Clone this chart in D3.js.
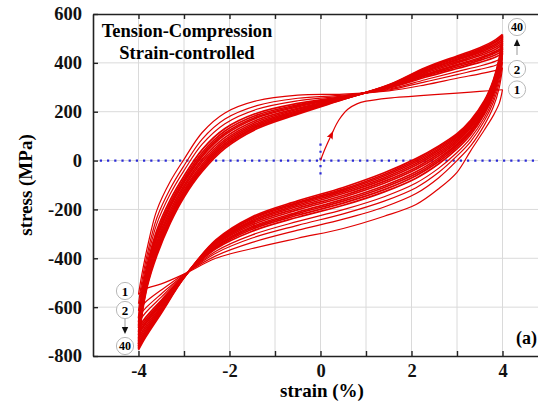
<!DOCTYPE html>
<html>
<head>
<meta charset="utf-8">
<script src="https://cdn.jsdelivr.net/npm/d3@7"></script>
<style>
  html, body { margin: 0; padding: 0; background: #fff; }
  svg { display: block; font-family: "Liberation Serif", "Times New Roman", serif; }
</style>
</head>
<body>
<svg id="chart" width="538" height="410"></svg>
<script>
// ---- axis ticks ----
const strainTicks = [-4, -3, -2, -1, 0, 1, 2, 3, 4];
const strainLabels = [-4, -2, 0, 2, 4];
const stressTicks = [-800, -600, -400, -200, 0, 200, 400, 600];

// ---- strain sampling of the hysteresis branches (%) ----
// reloading branches run from -4 % to +4 %, unloading branches from +4 % to -4 %
const strainUp   = [-4, -3.93, -3.8, -3.6, -3.3, -3.0, -2.6, -2.1, -1.4, -0.5, 0.5, 1.5, 2.3, 3.0, 3.5, 3.85, 4];
const strainDown = [4, 3.93, 3.8, 3.6, 3.3, 3.0, 2.6, 2.1, 1.4, 0.5, -0.5, -1.5, -2.3, -3.0, -3.5, -3.85, -4];

// ---- first tensile loading from the origin (MPa) ----
const strainInit = [0, 0.1, 0.24, 0.4, 0.6, 0.8, 1.0, 1.5, 2.0, 2.5, 3.0, 3.5, 4.0];
const stressInit = [0, 48, 106, 165, 210, 232, 243, 256, 263, 270, 276, 283, 290];

// ---- reloading branches (stress in MPa on strainUp), by cycle ----
const reloadCycles = [2, 3, 4, 5, 6, 7, 8, 10, 12, 15, 19, 24, 30, 40];
const reload2  = [-548, -470, -350, -205, -85, 5, 115, 195, 245, 268, 272, 285, 310, 337, 355, 369, 380];
const reload3  = [-586, -499, -377, -236, -114, -21, 88, 170, 225, 255, 268, 289, 322, 352, 373, 390, 403];
const reload4  = [-615, -521, -398, -260, -136, -41, 67, 151, 210, 245, 265, 292, 331, 364, 387, 407, 421];
const reload5  = [-646, -545, -420, -286, -160, -63, 45, 131, 194, 234, 262, 296, 341, 377, 402, 424, 440];
const reload6  = [-662, -557, -432, -299, -172, -74, 33, 121, 186, 228, 261, 298, 346, 383, 410, 433, 449];
const reload7  = [-675, -567, -441, -311, -182, -83, 24, 112, 179, 224, 260, 299, 350, 389, 416, 441, 458];
const reload8  = [-686, -575, -449, -320, -190, -91, 16, 105, 174, 220, 258, 301, 353, 393, 421, 447, 464];
const reload10 = [-702, -587, -460, -333, -202, -102, 5, 95, 166, 214, 257, 302, 358, 400, 429, 456, 474];
const reload12 = [-715, -598, -470, -344, -213, -111, -5, 86, 159, 210, 256, 304, 363, 405, 435, 464, 482];
const reload15 = [-729, -608, -480, -355, -223, -121, -15, 78, 152, 205, 254, 305, 367, 411, 442, 471, 490];
const reload19 = [-740, -616, -488, -364, -231, -128, -23, 70, 146, 201, 253, 307, 370, 415, 447, 477, 497];
const reload24 = [-751, -625, -496, -373, -240, -136, -31, 63, 140, 197, 252, 308, 374, 420, 452, 484, 504];
const reload30 = [-760, -632, -502, -381, -247, -142, -37, 57, 136, 194, 251, 309, 377, 424, 457, 489, 509];
const reload40 = [-771, -640, -510, -390, -255, -150, -45, 50, 130, 190, 250, 310, 380, 428, 462, 495, 516];

// ---- unloading branches (stress in MPa on strainDown), by cycle ----
const unloadCycles = [1, 2, 3, 4, 5, 6, 7, 8, 10, 12, 15, 19, 24, 30, 40];
const unload1  = [290, 235, 185, 125, 40, -48, -115, -180, -228, -278, -318, -360, -400, -465, -505, -525, -548];
const unload2  = [380, 300, 220, 145, 60, 0, -70, -135, -190, -240, -285, -335, -390, -465, -530, -580, -612];
const unload3  = [403, 320, 239, 162, 78, 19, -48, -111, -166, -218, -265, -317, -379, -468, -546, -605, -640];
const unload4  = [421, 336, 253, 175, 92, 33, -31, -92, -148, -201, -249, -304, -371, -470, -559, -624, -661];
const unload5  = [440, 353, 268, 189, 106, 48, -13, -72, -128, -183, -232, -289, -361, -472, -572, -644, -684];
const unload6  = [449, 361, 276, 196, 114, 56, -4, -62, -119, -174, -224, -281, -357, -473, -579, -654, -695];
const unload7  = [458, 368, 283, 202, 120, 63, 4, -54, -110, -166, -217, -275, -353, -474, -584, -663, -705];
const unload8  = [464, 374, 288, 207, 125, 68, 11, -46, -103, -159, -211, -270, -350, -474, -589, -670, -713];
const unload10 = [474, 383, 296, 214, 133, 76, 20, -36, -93, -150, -202, -263, -345, -475, -596, -680, -725];
const unload12 = [482, 390, 303, 220, 139, 83, 28, -28, -85, -143, -195, -256, -341, -476, -601, -689, -734];
const unload15 = [490, 397, 309, 226, 145, 89, 35, -19, -77, -135, -188, -250, -337, -477, -607, -698, -744];
const unload19 = [497, 403, 315, 231, 150, 95, 42, -12, -70, -128, -182, -245, -334, -478, -612, -705, -752];
const unload24 = [504, 409, 320, 236, 156, 100, 48, -5, -63, -122, -176, -239, -331, -479, -617, -712, -760];
const unload30 = [509, 414, 325, 240, 160, 105, 54, 1, -57, -117, -171, -235, -328, -479, -620, -718, -767];
const unload40 = [516, 420, 330, 245, 165, 110, 60, 8, -50, -110, -165, -230, -325, -480, -625, -725, -775];

const reloadStress = [reload2, reload3, reload4, reload5, reload6, reload7, reload8,
                      reload10, reload12, reload15, reload19, reload24, reload30, reload40];
const unloadStress = [unload1, unload2, unload3, unload4, unload5, unload6, unload7, unload8,
                      unload10, unload12, unload15, unload19, unload24, unload30, unload40];

// ---- cycle markers ----
const tensionMarks = ["40", "2", "1"];
const compressionMarks = ["1", "2", "40"];

// ---------------------------------------------------------------
const svg = d3.select("#chart");
const frame = { left: 93, right: 548, top: 14, bottom: 356 };

const x = d3.scaleLinear().domain([-5, 5]).range([frame.left, frame.right]);
const y = d3.scaleLinear().domain([-800, 600]).range([frame.bottom, frame.top]);

const RED = "#e00000";
const BOLD = "bold";
// the first few cycles stand apart; later ones pack into a dense band
const strokeFor = cycle => cycle <= 4 ? 1.2 : 1.7;

// grid
const grid = svg.append("g").attr("stroke", "#dadada").attr("stroke-width", 1);
grid.selectAll("line.v").data(strainTicks).join("line")
  .attr("class", "v")
  .attr("x1", d => x(d)).attr("x2", d => x(d))
  .attr("y1", frame.top).attr("y2", frame.bottom);
grid.selectAll("line.h").data(stressTicks.filter(d => d > -800 && d < 600)).join("line")
  .attr("class", "h")
  .attr("x1", frame.left).attr("x2", frame.right)
  .attr("y1", d => y(d)).attr("y2", d => y(d));

// zero reference lines
const zero = svg.append("g")
  .attr("stroke", "#2b2bd6").attr("stroke-width", 2.2)
  .attr("stroke-dasharray", "2.2,5").attr("fill", "none");
zero.append("line")
  .attr("x1", x(-4.85)).attr("x2", frame.right)
  .attr("y1", y(0)).attr("y2", y(0));
zero.append("line")
  .attr("x1", x(0)).attr("x2", x(0))
  .attr("y1", y(70)).attr("y2", y(-70));

// curves
svg.append("clipPath").attr("id", "plotClip")
  .append("rect")
  .attr("x", frame.left).attr("y", frame.top)
  .attr("width", frame.right - frame.left).attr("height", frame.bottom - frame.top);

const curves = svg.append("g").attr("clip-path", "url(#plotClip)")
  .attr("fill", "none").attr("stroke", RED)
  .attr("stroke-linejoin", "round");

const lineOn = strains => d3.line()
  .x((d, i) => x(strains[i]))
  .y(d => y(d))
  .curve(d3.curveCatmullRom.alpha(0.5));

curves.selectAll("path.unload").data(unloadStress).join("path")
  .attr("class", "unload")
  .attr("stroke-width", (d, i) => strokeFor(unloadCycles[i]))
  .attr("d", lineOn(strainDown));
curves.selectAll("path.reload").data(reloadStress).join("path")
  .attr("class", "reload")
  .attr("stroke-width", (d, i) => strokeFor(reloadCycles[i]))
  .attr("d", lineOn(strainUp));
curves.append("path")
  .attr("stroke-width", 1.2)
  .attr("d", lineOn(strainInit)(stressInit));

// arrowhead on the first loading curve
{
  const i = 2;
  const px = x(strainInit[i]), py = y(stressInit[i]);
  const ang = Math.atan2(y(stressInit[i + 1]) - y(stressInit[i - 1]),
                         x(strainInit[i + 1]) - x(strainInit[i - 1])) * 180 / Math.PI;
  svg.append("path")
    .attr("d", "M4,0 L-4,-3.2 L-2.5,0 L-4,3.2 Z")
    .attr("fill", RED)
    .attr("transform", `translate(${px},${py}) rotate(${ang})`);
}

// axes
const axisColor = "#222";
const bottomAxis = svg.append("g")
  .attr("transform", `translate(0,${frame.bottom})`)
  .call(d3.axisBottom(x).tickValues(strainTicks)
    .tickSizeInner(-5).tickSizeOuter(0).tickPadding(8)
    .tickFormat(d => strainLabels.includes(d) ? String(d) : ""));
const topAxis = svg.append("g")
  .attr("transform", `translate(0,${frame.top})`)
  .call(d3.axisTop(x).tickValues(strainTicks)
    .tickSizeInner(-5).tickSizeOuter(0).tickFormat(""));
const leftAxis = svg.append("g")
  .attr("transform", `translate(${frame.left},0)`)
  .call(d3.axisLeft(y).tickValues(stressTicks)
    .tickSizeInner(-5).tickSizeOuter(0).tickPadding(11)
    .tickFormat(d => String(d)));

[bottomAxis, topAxis, leftAxis].forEach(g => {
  g.select(".domain").attr("stroke", axisColor).attr("stroke-width", 1.6);
  g.selectAll(".tick line").attr("stroke", axisColor).attr("stroke-width", 1.4);
  g.selectAll(".tick text")
    .attr("fill", "#111")
    .style("font-family", '"Liberation Serif", "Times New Roman", serif')
    .style("font-weight", BOLD)
    .style("font-size", "18.5px");
});

// axis titles
svg.append("text")
  .attr("x", 322).attr("y", 397)
  .attr("text-anchor", "middle")
  .style("font-weight", BOLD).style("font-size", "19px")
  .text("strain (%)");
svg.append("text")
  .attr("transform", "translate(32,185) rotate(-90)")
  .attr("text-anchor", "middle")
  .style("font-weight", BOLD).style("font-size", "19px")
  .text("stress (MPa)");

// caption inside the frame
const cap = svg.append("text")
  .attr("text-anchor", "middle")
  .style("font-weight", BOLD).style("font-size", "18.5px");
cap.append("tspan").attr("x", 187).attr("y", 37).text("Tension-Compression");
cap.append("tspan").attr("x", 187).attr("y", 59).text("Strain-controlled");

svg.append("text")
  .attr("x", 537).attr("y", 344)
  .attr("text-anchor", "end")
  .style("font-weight", BOLD).style("font-size", "18px")
  .text("(a)");

// cycle number markers
function marker(cx, cy, label) {
  const g = svg.append("g").attr("transform", `translate(${cx},${cy})`);
  g.append("circle").attr("r", 8.6)
    .attr("fill", "#fff").attr("stroke", "#b8b8b8").attr("stroke-width", 1);
  g.append("text")
    .attr("text-anchor", "middle").attr("dy", "0.35em")
    .style("font-weight", BOLD).style("font-size", label.length > 1 ? "12px" : "13px")
    .text(label);
}
function pointer(cx, yFrom, yTip) {
  const dir = yTip < yFrom ? -1 : 1;
  svg.append("line")
    .attr("x1", cx).attr("x2", cx)
    .attr("y1", yFrom).attr("y2", yTip - dir * 5)
    .attr("stroke", "#999").attr("stroke-width", 1);
  svg.append("path")
    .attr("d", `M${cx},${yTip} L${cx - 3.2},${yTip - dir * 7} L${cx + 3.2},${yTip - dir * 7} Z`)
    .attr("fill", "#111");
}

const rightX = 517;
marker(rightX, 27, tensionMarks[0]);
marker(rightX, 69, tensionMarks[1]);
marker(rightX, 89.5, tensionMarks[2]);
pointer(rightX, 55, 39);

const leftX = 125;
marker(leftX, 291, compressionMarks[0]);
marker(leftX, 310, compressionMarks[1]);
marker(leftX, 346, compressionMarks[2]);
pointer(leftX, 319, 334);
</script>
</body>
</html>
